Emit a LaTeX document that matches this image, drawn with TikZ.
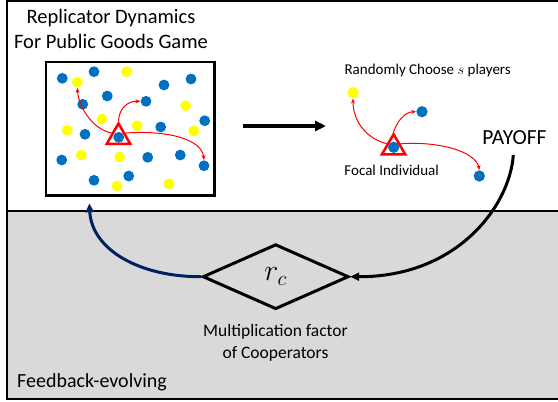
\documentclass[tikz,border=0pt]{standalone}
\usepackage{graphicx}
\usepackage{fontspec}
\setmainfont{Carlito}
\usetikzlibrary{arrows.meta,shapes.geometric}
\definecolor{cblue}{HTML}{0070C0}
\definecolor{cyellow}{HTML}{FFFF00}
\definecolor{cgray}{HTML}{D9D9D9}
\definecolor{cnavy}{HTML}{002060}
\begin{document}
\begin{tikzpicture}[x=1pt,y=-1pt,
  bdot/.style={circle,fill=cblue,minimum size=10.8pt,inner sep=0pt},
  ydot/.style={circle,fill=cyellow,minimum size=10.8pt,inner sep=0pt},
  tri/.style={regular polygon,regular polygon sides=3,draw=red,line width=2.5pt,minimum size=27pt,inner sep=0pt},
  redarr/.style={red,line width=1pt,-{Stealth[length=5pt,width=4pt]}},
  fatarr/.style={line width=3pt,-{Triangle[length=9pt,width=8pt]}},
  lbl/.style={inner sep=0pt}]
\useasboundingbox (0,0) rectangle (558,402);
% background panels
\fill[cgray] (7.3,211) rectangle (560,399.3);
\draw[line width=2pt] (560,1) -- (7.3,1) -- (7.3,399.3) -- (560,399.3);
\draw[line width=2.5pt] (7.3,211) -- (560,211);
% title
\node[lbl,font=\fontsize{20.5}{25}\selectfont,align=center] (title) at (111,29) {Replicator Dynamics\\For Public Goods Game};
% population box
\node[draw,line width=2.5pt,minimum width=168.5pt,minimum height=133.5pt,inner sep=0pt] (box1) at (130.2,128.7) {};
\foreach \n/\x/\y in {1/62.3/78.3,2/94/71.7,3/164/85,4/191/79,5/107.3/96,6/82.7/104.3,7/146/101.3,8/204.7/120.7,9/160.7/127,10/85/134.3,11/118.7/137.3,12/61.7/160,13/147.7/157.3,14/180.3/155,15/204/165.7,16/94/180.3,17/128.7/176}
  \node[bdot] (b\n) at (\x,\y) {};
\foreach \n/\x/\y in {1/126.7/71.7,2/77.3/82.3,3/185.7/105.7,4/102/119,5/67.3/130.3,6/137/125.7,7/193.7/131,8/81.3/155,9/119.7/157,10/117/186,11/169/184}
  \node[ydot] (y\n) at (\x,\y) {};
\node[tri] (t1) at (118.5,137) {};
\draw[redarr] (t1.side 1) .. controls (95,130) and (79,110) .. (y2.south);
\draw[redarr] (t1.corner 1) .. controls (119,108) and (128,101) .. (b7.west);
\draw[redarr] (t1.side 3) .. controls (170,130) and (202,140) .. (b15.north);
% big arrow
\coordinate (a1) at (243,126);
\coordinate (a2) at (326,126);
\draw[line width=3.3pt,-{Triangle[length=11pt,width=10pt]}] (a1) -- (a2);
% right panel
\node[lbl,font=\fontsize{15}{18}\selectfont] (rand) at (427.7,70) {Randomly Choose $s$ players};
\node[ydot,minimum size=11.3pt] (yr) at (353,92.7) {};
\node[bdot,minimum size=11.3pt] (br1) at (422,111.7) {};
\node[bdot,minimum size=11.3pt] (br2) at (479.3,176) {};
\node[bdot,minimum size=11.3pt] (bf) at (393.7,147.3) {};
\node[tri] (t2) at (393.6,147.7) {};
\draw[redarr] (t2.side 1) .. controls (365,138) and (353,120) .. (yr.south);
\draw[redarr] (t2.corner 1) .. controls (398,120) and (405,112) .. (br1.west);
\draw[redarr] (t2.side 3) .. controls (440,141) and (476,152) .. (br2.north);
\node[lbl,font=\fontsize{15}{18}\selectfont] (focal) at (391.7,170) {Focal Individual};
\node[lbl,font=\fontsize{21.5}{26}\selectfont] (payoff) at (514.5,138) {PAYOFF};
% feedback loop
\node[diamond,draw,fill=cgray,line width=3pt,minimum width=146pt,minimum height=65pt,inner sep=0pt,font=\fontsize{20.74}{25}\selectfont] (rc) at (275.7,276.7) {\scalebox{1.45}{$r_c$}};
\coordinate (p0) at (513.3,155);
\draw[fatarr] (p0) .. controls (510,205) and (458,277) .. (rc.east);
\coordinate (fb) at (89.3,203.3);
\draw[fatarr,cnavy] (rc.west) .. controls (140,277) and (92,250) .. (fb);
\node[lbl,font=\fontsize{17.5}{22.3}\selectfont,align=center] (mult) at (275.5,343) {Multiplication factor\\of Cooperators};
\node[lbl,font=\fontsize{20}{24}\selectfont,anchor=west] (fe) at (17,382) {Feedback-evolving};
\end{tikzpicture}
\end{document}
